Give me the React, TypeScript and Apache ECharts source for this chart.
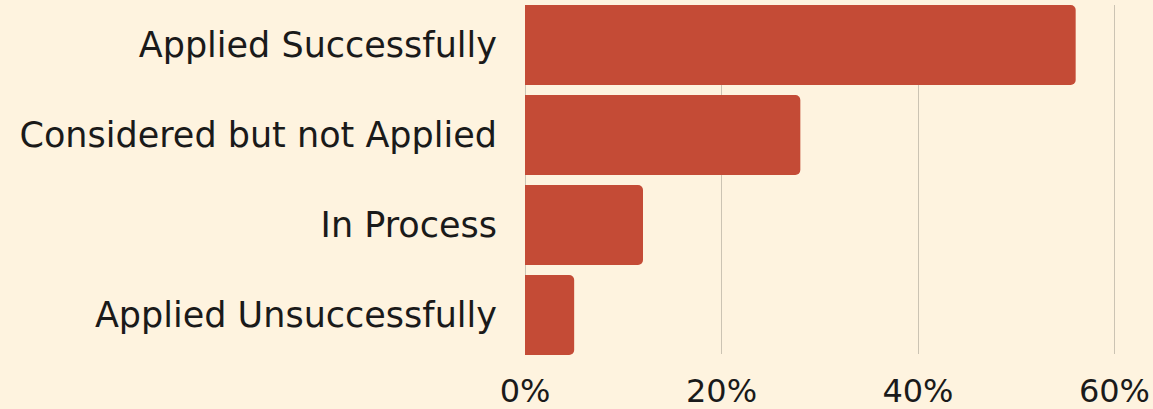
import React, { useEffect, useRef } from "react";
import * as echarts from "echarts";

const categories = [
  "Applied Successfully",
  "Considered but not Applied",
  "In Process",
  "Applied Unsuccessfully",
];
const values = [56, 28, 12, 5];
const xTicks = [0, 20, 40, 60];

const FONT = "'DejaVu Sans', sans-serif";
const BG = "#fef3df";
const BAR = "#c44b36";

export default function App() {
  const ref = useRef<HTMLDivElement>(null);
  useEffect(() => {
    document.body.style.margin = "0";
    document.body.style.background = BG;
    const chart = echarts.init(ref.current!, null, { renderer: "svg" });
    chart.setOption({
      animation: false,
      backgroundColor: BG,
      grid: [
        { left: 525, right: 38, top: 5, height: 349 },
        { left: 525, right: 38, top: 0, height: 360 },
      ],
      xAxis: [
        {
          gridIndex: 0,
          type: "value",
          min: 0,
          max: 60,
          interval: 20,
          axisLine: { show: false },
          axisTick: { show: false },
          splitLine: { show: true, lineStyle: { color: "#cbc3b3", width: 1 } },
          axisLabel: {
            formatter: (v: number) => (xTicks.includes(v) ? v + "%" : ""),
            fontFamily: FONT,
            fontSize: 32,
            color: "#1a1a1a",
            margin: 21,
          },
        },
        {
          gridIndex: 1,
          type: "value",
          min: 0,
          max: 60,
          show: false,
        },
      ],
      yAxis: [
        {
          gridIndex: 0,
          type: "category",
          data: categories,
          inverse: true,
          axisLine: { show: false },
          axisTick: { show: false },
          axisLabel: { show: false },
          splitLine: { show: false },
        },
        {
          gridIndex: 1,
          type: "category",
          data: categories,
          inverse: true,
          axisLine: { show: false },
          axisTick: { show: false },
          splitLine: { show: false },
          axisLabel: {
            fontFamily: FONT,
            fontSize: 35,
            color: "#1a1a1a",
            margin: 28,
          },
        },
      ],
      series: [
        {
          type: "bar",
          xAxisIndex: 1,
          yAxisIndex: 1,
          data: values,
          barWidth: 80,
          itemStyle: { color: BAR, borderRadius: [0, 5, 5, 0] },
        },
      ],
    });
    return () => chart.dispose();
  }, []);
  return <div ref={ref} style={{ width: 1153, height: 409 }} />;
}
